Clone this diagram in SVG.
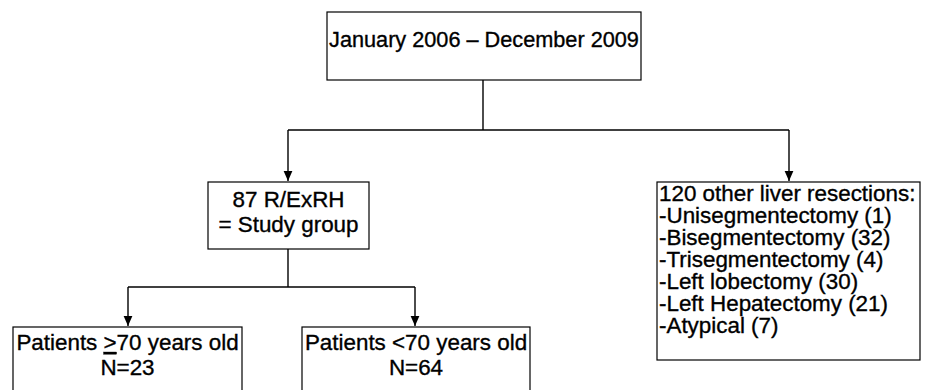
<svg xmlns="http://www.w3.org/2000/svg" width="930" height="390" viewBox="0 0 930 390">
<defs>
<marker id="arr" markerWidth="10" markerHeight="10" refX="10" refY="5" orient="auto" markerUnits="userSpaceOnUse" viewBox="0 0 10 10">
<path d="M0,0.6 L10,5 L0,9.4 Z" fill="#000"/>
</marker>
<style>
.box{fill:#fff;stroke:#000;stroke-width:1.2}
.t{font-family:"Liberation Sans",Arial,sans-serif;font-size:22.4px;fill:#000;stroke:#000;stroke-width:0.35}
.c{text-anchor:middle}
.ln{fill:none;stroke:#000;stroke-width:1.4}
</style>
</defs>
<rect width="930" height="390" fill="#fff"/>
<g id="connectors">
<polyline class="ln" points="483,80 483,130"/>
<polyline class="ln" points="288,130 789,130"/>
<polyline class="ln" points="288,130 288,181" marker-end="url(#arr)"/>
<polyline class="ln" points="789,130 789,181" marker-end="url(#arr)"/>
<polyline class="ln" points="288,249 288,287"/>
<polyline class="ln" points="128,287 415,287"/>
<polyline class="ln" points="128,287 128,326" marker-end="url(#arr)"/>
<polyline class="ln" points="415,287 415,326" marker-end="url(#arr)"/>
</g>
<g id="n-period">
<rect class="box" x="327" y="12" width="314" height="68"/>
<text class="t c" x="484" y="47" style="font-size:21.7px">January 2006 – December 2009</text>
</g>
<g id="n-study">
<rect class="box" x="208" y="182" width="161" height="67"/>
<text class="t c" x="288.5" y="207">87 R/ExRH</text>
<text class="t c" x="288.5" y="232">= Study group</text>
</g>
<g id="n-other">
<rect class="box" x="657" y="182" width="263" height="178"/>
<text class="t" x="659" y="201">120 other liver resections:</text>
<text class="t" x="659" y="223">-Unisegmentectomy (1)</text>
<text class="t" x="659" y="245">-Bisegmentectomy (32)</text>
<text class="t" x="659" y="267">-Trisegmentectomy (4)</text>
<text class="t" x="659" y="289">-Left lobectomy (30)</text>
<text class="t" x="659" y="311">-Left Hepatectomy (21)</text>
<text class="t" x="659" y="333">-Atypical (7)</text>
</g>
<g id="n-old">
<rect class="box" x="13" y="327" width="229" height="70"/>
<text class="t c" x="127.5" y="350">Patients <tspan text-decoration="underline">&gt;</tspan>70 years old</text>
<text class="t c" x="127.5" y="375">N=23</text>
</g>
<g id="n-young">
<rect class="box" x="302" y="327" width="228" height="70"/>
<text class="t c" x="416" y="350">Patients &lt;70 years old</text>
<text class="t c" x="416" y="375">N=64</text>
</g>
</svg>
